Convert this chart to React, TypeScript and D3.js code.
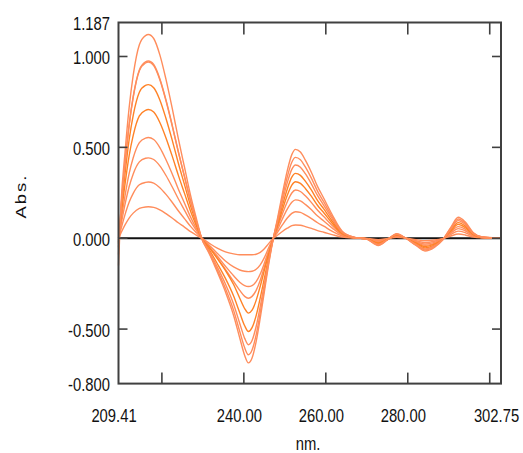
import React from "react";
import * as d3 from "d3";

// wavelength grid (nm) shared by every spectrum
const WAVELENGTHS = [209.41, 210, 211, 212, 213, 214.5, 216, 216.7, 218, 219.5, 221, 222.5, 224, 225.5, 227, 228.5, 229.7,
  231.5, 233.5, 235.5, 237.5, 239, 240.2, 241.1, 242, 243, 244, 245, 246, 247.2,
  248.2, 249.4, 250.6, 251.7, 252.6, 253.8, 255, 256.5, 258, 259.5, 261.5, 264, 267,
  270, 272.8, 275, 277.3, 279.5, 282, 284.2, 286.5, 288.5, 290.5, 292.3, 294, 296, 298, 302.75];

const SPECTRUM_1 = [-0.15, 0.179, 0.471, 0.717, 0.897, 1.065, 1.115, 1.121, 1.099, 1.009, 0.874, 0.717, 0.549, 0.392, 0.235, 0.101, 0,
  -0.082, -0.185, -0.295, -0.425, -0.549, -0.645, -0.686, -0.659, -0.569, -0.439, -0.295, -0.151, 0,
  0.108, 0.245, 0.372, 0.46, 0.489, 0.474, 0.43, 0.362, 0.284, 0.22, 0.132, 0.039, 0.005,
  -0.005, -0.04, -0.01, 0.025, 0.0, -0.04, -0.07, -0.05, -0.01, 0.06, 0.115, 0.09, 0.03, 0.008, 0.0];
const SPECTRUM_2 = [-0.09, 0.156, 0.41, 0.624, 0.78, 0.926, 0.97, 0.975, 0.956, 0.878, 0.761, 0.624, 0.478, 0.341, 0.205, 0.088, 0,
  -0.077, -0.173, -0.276, -0.397, -0.513, -0.603, -0.641, -0.615, -0.532, -0.41, -0.276, -0.141, 0,
  0.098, 0.223, 0.338, 0.418, 0.445, 0.432, 0.392, 0.329, 0.258, 0.2, 0.12, 0.036, 0.004,
  -0.005, -0.037, -0.009, 0.023, 0.0, -0.037, -0.064, -0.046, -0.009, 0.055, 0.106, 0.083, 0.028, 0.007, 0];
const SPECTRUM_3 = [-0.05, 0.155, 0.407, 0.62, 0.775, 0.921, 0.964, 0.969, 0.95, 0.872, 0.756, 0.62, 0.475, 0.339, 0.203, 0.087, 0,
  -0.07, -0.158, -0.252, -0.363, -0.469, -0.551, -0.586, -0.563, -0.486, -0.375, -0.252, -0.129, 0,
  0.089, 0.202, 0.306, 0.379, 0.403, 0.391, 0.355, 0.298, 0.234, 0.181, 0.109, 0.032, 0.004,
  -0.004, -0.034, -0.008, 0.021, 0.0, -0.034, -0.059, -0.042, -0.008, 0.05, 0.097, 0.076, 0.025, 0.007, 0];
const SPECTRUM_4 = [-0.03, 0.135, 0.355, 0.541, 0.676, 0.803, 0.841, 0.845, 0.828, 0.761, 0.659, 0.541, 0.414, 0.296, 0.177, 0.076, 0,
  -0.062, -0.139, -0.221, -0.318, -0.41, -0.482, -0.513, -0.492, -0.426, -0.328, -0.221, -0.113, 0,
  0.079, 0.179, 0.271, 0.336, 0.357, 0.346, 0.314, 0.264, 0.207, 0.161, 0.096, 0.029, 0.004,
  -0.004, -0.03, -0.008, 0.019, 0.0, -0.03, -0.053, -0.038, -0.008, 0.045, 0.086, 0.068, 0.023, 0.006, 0];
const SPECTRUM_5 = [-0.02, 0.113, 0.297, 0.453, 0.566, 0.673, 0.704, 0.708, 0.694, 0.637, 0.552, 0.453, 0.347, 0.248, 0.149, 0.064, 0,
  -0.049, -0.111, -0.177, -0.255, -0.33, -0.387, -0.412, -0.396, -0.342, -0.264, -0.177, -0.091, 0,
  0.068, 0.156, 0.236, 0.292, 0.311, 0.302, 0.274, 0.23, 0.18, 0.14, 0.084, 0.025, 0.003,
  -0.003, -0.026, -0.007, 0.017, 0.0, -0.026, -0.046, -0.033, -0.007, 0.04, 0.076, 0.059, 0.02, 0.005, 0];
const SPECTRUM_6 = [-0.01, 0.089, 0.233, 0.355, 0.443, 0.526, 0.551, 0.554, 0.543, 0.499, 0.432, 0.355, 0.271, 0.194, 0.116, 0.05, 0,
  -0.05, -0.109, -0.172, -0.238, -0.287, -0.32, -0.33, -0.32, -0.287, -0.231, -0.158, -0.083, 0,
  0.058, 0.133, 0.201, 0.249, 0.265, 0.257, 0.233, 0.196, 0.154, 0.119, 0.072, 0.021, 0.003,
  -0.003, -0.022, -0.006, 0.014, 0.0, -0.022, -0.039, -0.028, -0.006, 0.034, 0.064, 0.05, 0.017, 0.004, 0];
const SPECTRUM_7 = [0.0, 0.071, 0.186, 0.283, 0.354, 0.42, 0.44, 0.442, 0.433, 0.398, 0.345, 0.283, 0.217, 0.155, 0.093, 0.04, 0,
  -0.045, -0.098, -0.154, -0.207, -0.242, -0.261, -0.266, -0.261, -0.239, -0.197, -0.138, -0.072, 0,
  0.046, 0.106, 0.16, 0.198, 0.211, 0.205, 0.186, 0.156, 0.122, 0.095, 0.057, 0.017, 0.002,
  -0.002, -0.018, -0.005, 0.012, 0.0, -0.018, -0.032, -0.023, -0.005, 0.028, 0.053, 0.041, 0.014, 0.004, 0];
const SPECTRUM_8 = [0.0, 0.049, 0.13, 0.198, 0.247, 0.294, 0.307, 0.309, 0.303, 0.278, 0.241, 0.198, 0.151, 0.108, 0.065, 0.028, 0,
  -0.037, -0.083, -0.125, -0.158, -0.175, -0.182, -0.184, -0.182, -0.171, -0.147, -0.107, -0.055, 0,
  0.032, 0.073, 0.111, 0.137, 0.146, 0.142, 0.128, 0.108, 0.085, 0.066, 0.039, 0.012, 0.001,
  -0.002, -0.014, -0.003, 0.009, 0.0, -0.014, -0.024, -0.017, -0.003, 0.02, 0.039, 0.031, 0.01, 0.003, 0];
const SPECTRUM_9 = [0.0, 0.028, 0.073, 0.111, 0.138, 0.164, 0.172, 0.173, 0.17, 0.156, 0.135, 0.111, 0.085, 0.061, 0.036, 0.016, 0,
  -0.027, -0.055, -0.075, -0.086, -0.091, -0.091, -0.091, -0.091, -0.088, -0.078, -0.058, -0.031, 0,
  0.016, 0.037, 0.055, 0.069, 0.073, 0.071, 0.064, 0.054, 0.042, 0.033, 0.02, 0.006, 0.001,
  -0.001, -0.008, -0.002, 0.005, 0.0, -0.008, -0.014, -0.01, -0.002, 0.012, 0.023, 0.018, 0.006, 0.002, 0];

const SPECTRA = [SPECTRUM_1, SPECTRUM_2, SPECTRUM_3, SPECTRUM_4, SPECTRUM_5, SPECTRUM_6, SPECTRUM_7, SPECTRUM_8, SPECTRUM_9];

const X_DOMAIN = [209.41, 302.75];
const Y_DOMAIN = [-0.8, 1.187];
const X_TICKS = [220, 240, 260, 280, 300];
const X_LABELS = ["209.41", "240.00", "260.00", "280.00", "302.75"];
const X_LABEL_VALUES = [209.41, 240, 260, 280, 302.75];
const Y_TICKS = [1.0, 0.5, 0.0, -0.5];
const Y_LABELS = ["1.187", "1.000", "0.500", "0.000", "-0.500", "-0.800"];
const Y_LABEL_VALUES = [1.187, 1.0, 0.5, 0.0, -0.5, -0.8];

const COLORS = ["#ff8d5c", "#ff8d5c", "#ff8d5c", "#ff8226", "#ff8226", "#ff8d5c", "#ff8d5c", "#ff8d5c", "#ff8d5c"];

const W = 523, H = 453;
const L = 118.5, R = 501, T = 22.5, B = 383.6;
const FONT = "'Liberation Sans', Arial, sans-serif";
const FS = 18.5;
const SX = 0.8;

export default function App() {
  const x = d3.scaleLinear().domain(X_DOMAIN).range([L, R]);
  const y = d3.scaleLinear().domain(Y_DOMAIN).range([B, T]);
  const line = d3.line<number>()
    .x((_, i) => x(WAVELENGTHS[i]))
    .y((d) => y(d))
    .curve(d3.curveMonotoneX);
  const frame = "#404040";
  return (
    <svg width={W} height={H} style={{ position: "absolute", left: 0, top: 0, background: "#fff" }}>
      <rect x={0} y={0} width={W} height={H} fill="#fff" />
      {/* zero line */}
      <line x1={L} x2={R} y1={y(0)} y2={y(0)} stroke="#111" strokeWidth={2} />
      {/* spectra */}
      {SPECTRA.slice().reverse().map((s, i) => {
        const idx = SPECTRA.length - 1 - i;
        return <path key={idx} d={line(s) || ""} fill="none" stroke={COLORS[idx]} strokeWidth={1.4} />;
      })}
      {/* frame */}
      <rect x={L} y={T} width={R - L} height={B - T} fill="none" stroke={frame} strokeWidth={2} />
      {/* x ticks bottom & top */}
      {X_TICKS.map((t) => (
        <g key={"xt" + t}>
          <line x1={x(t)} x2={x(t)} y1={B} y2={B - 11} stroke={frame} strokeWidth={1.6} />
          <line x1={x(t)} x2={x(t)} y1={T} y2={T + 12} stroke={frame} strokeWidth={1.6} />
        </g>
      ))}
      {/* y ticks left & right */}
      {Y_TICKS.map((t) => (
        <g key={"yt" + t}>
          <line x1={L} x2={L + 9} y1={y(t)} y2={y(t)} stroke={frame} strokeWidth={1.6} />
          <line x1={R} x2={R - 9} y1={y(t)} y2={y(t)} stroke={frame} strokeWidth={1.6} />
        </g>
      ))}
      {/* y labels */}
      {Y_LABELS.map((lab, i) => (
        <text key={"yl" + i} transform={`translate(110,${y(Y_LABEL_VALUES[i]) + 7.8}) scale(${SX},1)`}
          textAnchor="end" fontFamily={FONT} fontSize={FS} fill="#111">{lab}</text>
      ))}
      {/* x labels */}
      {X_LABELS.map((lab, i) => (
        <text key={"xl" + i} transform={`translate(${x(X_LABEL_VALUES[i]) - 4.5},422) scale(${SX},1)`}
          textAnchor="middle" fontFamily={FONT} fontSize={FS} fill="#111">{lab}</text>
      ))}
      <text transform={`translate(308,449.5) scale(${SX},1)`} textAnchor="middle" fontFamily={FONT} fontSize={FS} fill="#111">nm.</text>
      <text transform={`translate(26,196) rotate(-90) scale(1,${SX})`} textAnchor="middle" fontFamily={FONT} fontSize={FS}
        letterSpacing={2} fill="#111">Abs.</text>
    </svg>
  );
}
